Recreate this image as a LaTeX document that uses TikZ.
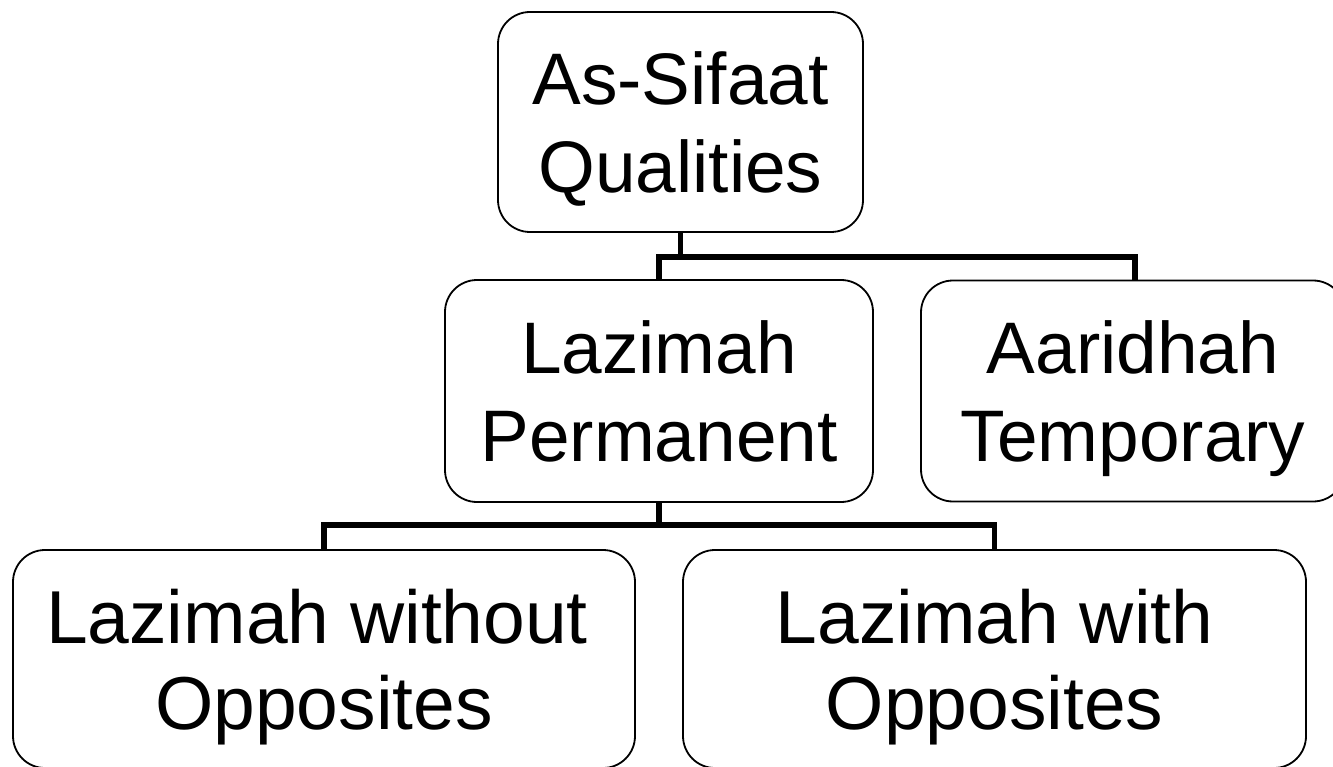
\documentclass[tikz,border=0pt]{standalone}
\usepackage{fontspec}
\setmainfont{Liberation Sans}
\begin{document}
\begin{tikzpicture}[x=1pt,y=-1pt,
  box/.style={draw=black,line width=1.8pt,rounded corners=32pt,fill=white,
    inner sep=0pt,align=center,text depth=0pt,font=\fontsize{73}{88}\selectfont},
  bigbox/.style={box,font=\fontsize{75}{86}\selectfont},
  conn/.style={draw=black,line width=5.5pt,line join=miter,line cap=butt}]
\useasboundingbox (0,0) rectangle (1333,767);
\node[box,minimum width=365pt,minimum height=220pt] (top) at (680.5,122) {As-Sifaat\\Qualities};
\node[box,minimum width=428pt,minimum height=222pt] (mid) at (659,391) {Lazimah\\Permanent};
\node[box,minimum width=424pt,minimum height=221pt] (aar) at (1133,391) {Aaridhah\\Temporary};
\node[bigbox,minimum width=622pt,minimum height=218pt] (bl) at (324,659) {Lazimah without\kern14pt\\Opposites};
\node[bigbox,minimum width=623pt,minimum height=218pt] (br) at (994.5,659) {Lazimah with\\Opposites};
\coordinate (bus1) at (0,257);
\coordinate (bus2) at (0,525);
\coordinate (a1) at ([xshift=2pt]aar.north);
\draw[conn] (top.south) -- (top.south |- bus1);
\draw[conn] (mid.north) |- (a1 |- bus1) -- (a1);
\draw[conn] (mid.south) -- (mid.south |- bus2);
\draw[conn] (bl.north) |- (br.north |- bus2) -- (br.north);
\end{tikzpicture}
\end{document}
